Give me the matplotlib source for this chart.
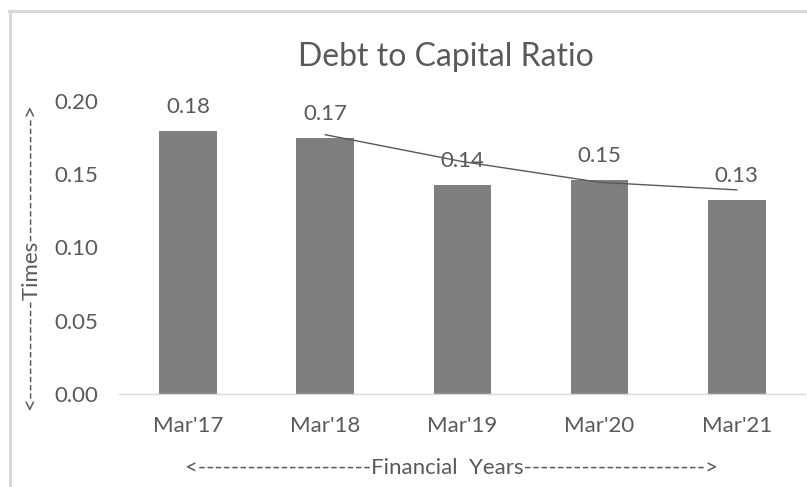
import matplotlib.pyplot as plt
import pandas as pd
from matplotlib.lines import Line2D

# data
years = ["Mar'17", "Mar'18", "Mar'19", "Mar'20", "Mar'21"]
ratio = [0.1795, 0.1745, 0.1428, 0.1462, 0.1325]

plt.rcParams['font.family'] = ['Lato', 'DejaVu Sans']
text_col = '#595959'

fig = plt.figure(figsize=(8.07, 4.87), dpi=100)
ax = fig.add_axes([0.148, 0.191, 0.850, 0.6016])

x = range(len(years))
bars = ax.bar(x, ratio, width=0.42, color='#7f7f7f', zorder=2)
ax.bar_label(bars, fmt='%.2f', padding=10, fontsize=16, color=text_col)

# 2 period moving average trendline (as in Excel)
trend = pd.Series(ratio).rolling(2).mean()
ax.plot(list(x)[1:], trend[1:], color='#595959', lw=1.0, zorder=3)

ax.set_ylim(0, 0.20)
ax.set_xlim(-0.5, len(years) - 0.5)
ax.set_yticks([0, 0.05, 0.10, 0.15, 0.20])
ax.set_yticklabels(['0.00', '0.05', '0.10', '0.15', '0.20'])
ax.set_xticks(list(x))
ax.set_xticklabels(years)
ax.tick_params(axis='y', length=0, pad=15, labelsize=16, labelcolor=text_col)
ax.tick_params(axis='x', length=0, pad=16, labelsize=16, labelcolor=text_col)

for s in ['top', 'right', 'left']:
    ax.spines[s].set_visible(False)
ax.spines['bottom'].set_color('#d9d9d9')
ax.spines['bottom'].set_linewidth(1.0)

fig.text(0.553, 0.8645, 'Debt to Capital Ratio', ha='center', va='baseline',
         fontsize=23, color=text_col)
fig.text(0.559, 0.039, '<---------------------Financial  Years---------------------->',
         ha='center', va='center', fontsize=16, color=text_col)
fig.text(0.037, 0.473, '<------------Times--------------->', rotation=90,
         ha='center', va='center', fontsize=16, color=text_col)

# chart frame (only left and top edges visible in the crop)
fig.add_artist(Line2D([9.5 / 807, 9.5 / 807], [0, 1 - 11.3 / 487],
                      transform=fig.transFigure, color='#d9d9d9', lw=2.2))
fig.add_artist(Line2D([8.5 / 807, 1], [1 - 11.3 / 487, 1 - 11.3 / 487],
                      transform=fig.transFigure, color='#d9d9d9', lw=2.2))

fig.savefig('out.png', dpi=100)
